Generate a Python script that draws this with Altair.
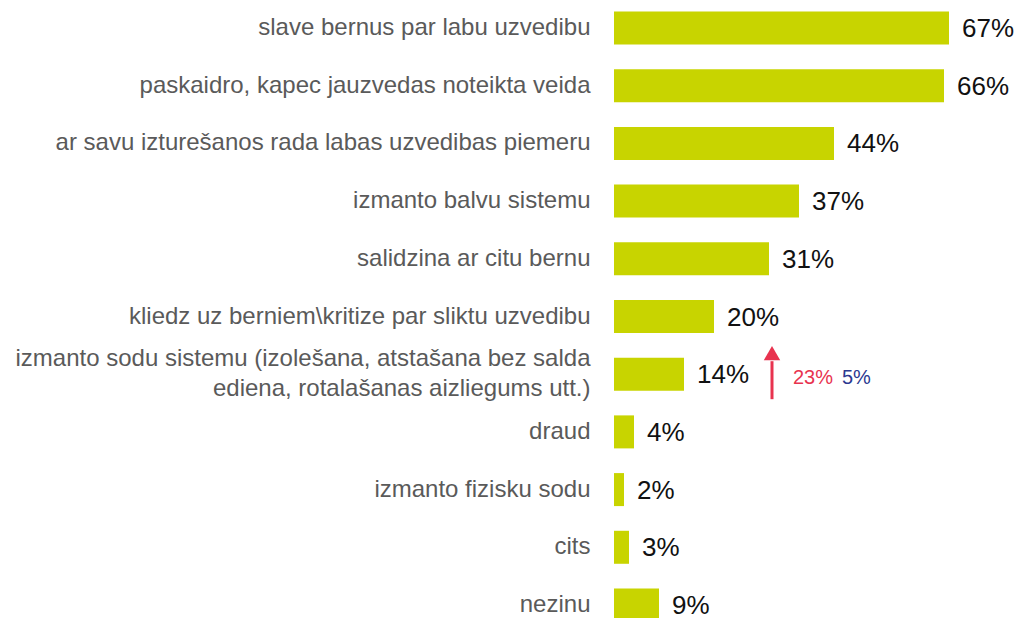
import altair as alt
import pandas as pd

categories = [
    "slave bernus par labu uzvedibu",
    "paskaidro, kapec jauzvedas noteikta veida",
    "ar savu izturešanos rada labas uzvedibas piemeru",
    "izmanto balvu sistemu",
    "salidzina ar citu bernu",
    "kliedz uz berniem\\kritize par sliktu uzvedibu",
    "izmanto sodu sistemu (izolešana, atstašana bez salda\nediena, rotalašanas aizliegums utt.)",
    "draud",
    "izmanto fizisku sodu",
    "cits",
    "nezinu",
]
values = [67, 66, 44, 37, 31, 20, 14, 4, 2, 3, 9]

note_category = categories[6]
note_value = values[6]
note_up = "23%"
note_down = "5%"

df = pd.DataFrame({"cat": categories, "val": values})
df["lbl"] = df["val"].astype(str) + "%"
note = pd.DataFrame({"cat": [note_category], "val": [note_value],
                     "up": [note_up], "down": [note_down]})

y_enc = alt.Y(
    "cat:N", sort=None, title=None,
    scale=alt.Scale(paddingInner=0.428, paddingOuter=0.061),
    axis=alt.Axis(domain=False, ticks=False, grid=False, labelPadding=24,
                  labelFontSize=24, labelFont="Liberation Sans",
                  labelColor="#5A5A5A", labelLimit=700, labelLineHeight=30,
                  labelOffset={"condition": {"test": "indexof(datum.value, '\\n') >= 0",
                                             "value": -15}, "value": 0},
                  labelExpr="split(datum.value, '\\n')"),
)
x_enc = alt.X("val:Q", title=None, axis=None,
              scale=alt.Scale(domain=[0, 80.2], nice=False, zero=True))

bars = alt.Chart(df).mark_bar(color="#C8D400").encode(x=x_enc, y=y_enc)
labels = alt.Chart(df).mark_text(
    align="left", baseline="middle", dx=13, dy=1, fontSize=26,
    font="Liberation Sans", color="#111111"
).encode(x=x_enc, y=alt.Y("cat:N", sort=None), text="lbl:N")

shaft = alt.Chart(note).mark_rule(
    color="#E8334F", strokeWidth=3, xOffset=88, x2Offset=88, yOffset=-13, y2Offset=25
).encode(x="val:Q", y=alt.Y("cat:N", sort=None), y2="cat:N")
head = alt.Chart(note).mark_point(
    shape="triangle-up", filled=True, opacity=1, color="#E8334F", size=270,
    xOffset=88, yOffset=-21
).encode(x="val:Q", y=alt.Y("cat:N", sort=None))
up_txt = alt.Chart(note).mark_text(
    align="left", baseline="middle", fontSize=20, font="Liberation Sans",
    color="#E8334F", xOffset=109, yOffset=4
).encode(x="val:Q", y=alt.Y("cat:N", sort=None), text="up:N")
down_txt = alt.Chart(note).mark_text(
    align="left", baseline="middle", fontSize=20, font="Liberation Sans",
    color="#2B3990", xOffset=158, yOffset=4
).encode(x="val:Q", y=alt.Y("cat:N", sort=None), text="down:N")

chart = alt.layer(bars, labels, shaft, head, up_txt, down_txt).properties(
    width=401, height=617,
    autosize=alt.AutoSizeParams(type="none"),
    padding={"left": 606, "top": 0, "right": 0, "bottom": 0},
).configure_view(stroke=None)

chart.save("out.html", embed_options={"renderer": "svg", "actions": False})
